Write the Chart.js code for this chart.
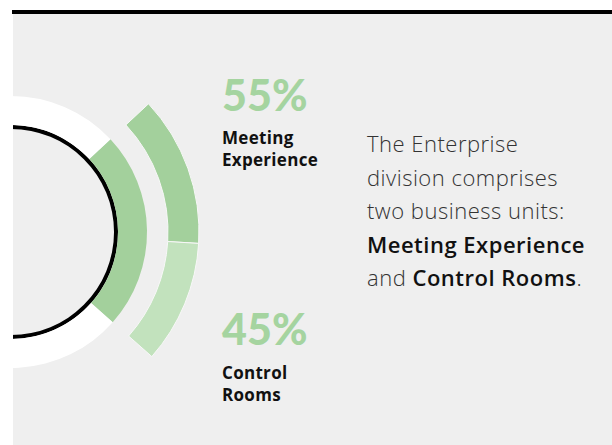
<!DOCTYPE html>
<html lang="en">
<head>
  <meta charset="UTF-8" />
  <title>Enterprise division</title>
  <script src="https://cdn.jsdelivr.net/npm/chart.js"></script>
  <style>
    * {
      box-sizing: border-box;
      margin: 0;
      padding: 0;
    }
    body {
      width: 612px;
      height: 445px;
      background: #fff;
      position: relative;
      overflow: hidden;
      font-family: 'Open Sans', 'Lato', sans-serif;
    }
    .top-bar {
      position: absolute;
      left: 12px;
      top: 10px;
      width: 600px;
      height: 4px;
      background: #000;
    }
    .panel {
      position: absolute;
      left: 13px;
      top: 14px;
      right: 0;
      bottom: 0;
      background: #efefef;
      overflow: hidden;
    }
    #ring-chart {
      position: absolute;
      left: -202px;
      top: 18px;
    }
    .pct {
      position: absolute;
      left: 222px;
      font-family: 'Lato', sans-serif;
      font-size: 43px;
      font-weight: 900;
      line-height: 42px;
      color: #a5d4a0;
    }
    .unit {
      position: absolute;
      left: 222px;
      font-size: 17px;
      font-weight: bold;
      line-height: 22px;
      letter-spacing: 0.3px;
      color: #111;
    }
    .blurb {
      position: absolute;
      left: 367px;
      top: 127px;
      font-size: 22px;
      font-weight: 300;
      line-height: 33.5px;
      letter-spacing: 0.5px;
      color: #333;
    }
    .blurb b {
      font-weight: 600;
      color: #111;
    }
  </style>
</head>
<body>
  <div class="top-bar"></div>
  <div class="panel">
    <canvas id="ring-chart" width="400" height="400"></canvas>
  </div>

  <div class="pct" id="pct-0" style="top: 74px;"></div>
  <div class="unit" id="unit-0" style="top: 127px;"></div>
  <div class="pct" id="pct-1" style="top: 308px;"></div>
  <div class="unit" id="unit-1" style="top: 362px;"></div>

  <div class="blurb">
    The Enterprise<br>
    division comprises<br>
    two business units:<br>
    <b>Meeting Experience</b><br>
    and <b>Control Rooms</b>.
  </div>

  <script>
    // split of the Enterprise division
    const unitLabels = ['Meeting Experience', 'Control Rooms'];
    const unitShares = [55, 45];
    const unitLines = [['Meeting', 'Experience'], ['Control', 'Rooms']];

    // Enterprise division against the rest of the company
    const divisionLabels = ['Enterprise', 'Other'];
    const divisionShares = [23.5, 76.5];

    // texts next to the rings
    unitShares.forEach((v, i) => {
      document.getElementById('pct-' + i).textContent = v + '%';
      document.getElementById('unit-' + i).innerHTML = unitLines[i].join('<br>');
    });

    const ctx = document.getElementById('ring-chart').getContext('2d');
    new Chart(ctx, {
      type: 'doughnut',
      data: {
        labels: unitLabels,
        datasets: [
          {
            label: 'Business units',
            data: unitShares,
            backgroundColor: ['#a3d09c', '#c2e2bd'],
            borderColor: '#f7f7f7',
            borderWidth: 1,
            rotation: 47,
            circumference: 84.5,
            weight: 31
          },
          {
            label: 'gap',
            data: [1],
            backgroundColor: 'rgba(0,0,0,0)',
            borderWidth: 0,
            weight: 21
          },
          {
            label: 'Division',
            data: divisionShares,
            backgroundColor: ['#a3d09c', '#ffffff'],
            borderWidth: 0,
            rotation: 47,
            weight: 29
          },
          {
            label: 'outline',
            data: [1],
            backgroundColor: '#000',
            borderWidth: 0,
            weight: 4
          }
        ]
      },
      options: {
        responsive: false,
        animation: false,
        radius: 188,
        cutout: '54.8%',
        layout: { padding: 0 },
        plugins: {
          legend: { display: false },
          tooltip: { enabled: false }
        }
      }
    });
  </script>
</body>
</html>
